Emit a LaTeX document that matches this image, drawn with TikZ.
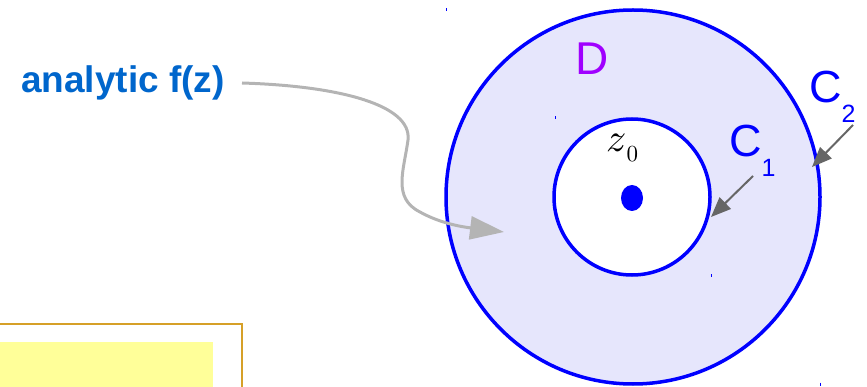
\documentclass[tikz,border=0pt]{standalone}
\usepackage{graphicx}
\usepackage{fontspec}
\setmainfont{Liberation Sans}
\usetikzlibrary{arrows.meta}
\definecolor{ringfill}{RGB}{230,230,252}
\definecolor{domainpurple}{RGB}{160,0,255}
\definecolor{fzblue}{RGB}{0,102,204}
\definecolor{pointgray}{RGB}{102,102,102}
\definecolor{curvegray}{RGB}{180,180,180}
\definecolor{noteyellow}{RGB}{255,255,153}
\definecolor{notegold}{RGB}{214,160,40}
\tikzset{
  contour/.style={draw=blue, line width=3.5pt},
  clabel/.style={text=blue, inner sep=0pt, anchor=base west, font=\fontsize{45}{48}\selectfont},
  pointer/.style={draw=pointgray, line width=2pt, -{Triangle[length=20pt,width=16pt]}},
  tick/.style={draw=blue, line width=1pt}
}
\newcommand{\sub}[1]{\raisebox{-20pt}{\fontsize{25}{25}\selectfont #1}}
\begin{document}
\begin{tikzpicture}[x=1pt,y=-1pt]
    \useasboundingbox (0,0) rectangle (867,387);
    \clip (0,0) rectangle (867,387);
    % note box, bottom left
    \fill[noteyellow] (0,342) rectangle (213,395);
    \draw[notegold, line width=1.2pt] (-5,324) -- (242,324) -- (242,395);
    % region D and the two contours
    \filldraw[contour, fill=ringfill] (633,197) circle (187);
    \filldraw[contour, fill=white] (632,197) circle (78);
    \fill[blue] (632,198) ellipse (11 and 13);
    \draw[tick] (446,8.5) -- (446,11.5);
    \draw[tick] (555,116.5) -- (555,119.5);
    \draw[tick] (711,274.5) -- (711,277.5);
    \draw[tick] (820,382.5) -- (820,385.5);
    % labels
    \node[inner sep=0pt, anchor=base west, text=domainpurple, font=\fontsize{46}{48}\selectfont] (D) at (575,75) {D};
    \node[inner sep=0pt, anchor=base west] (z0) at (606,152) {\scalebox{4}{$z$}\raisebox{-10pt}{\scalebox{2.3}{$0$}}};
    \node[clabel] (C1) at (729,157) {C\sub{1}};
    \node[clabel] (C2) at (809,103) {C\sub{2}};
    \node[inner sep=0pt, anchor=base west, text=fzblue, font=\fontsize{37}{40}\selectfont\bfseries] (fz) at (21,93) {analytic f(z)};
    % pointers
    \coordinate (c1tail) at (753,176);
    \coordinate (c1tip) at (711,217);
    \coordinate (c2tail) at (853,125);
    \coordinate (c2tip) at (812,167);
    \draw[pointer] (c1tail) -- (c1tip);
    \draw[pointer] (c2tail) -- (c2tip);
    \coordinate (fzout) at (242,83);
    \coordinate (inD) at (504,232);
    \draw[curvegray, line width=3pt, -{Triangle[length=34pt,width=23pt]}] (fzout) .. controls (340,86) and (412,105) .. (408,140) .. controls (404,170) and (392,198) .. (420,212) .. controls (436,221) and (455,226) .. (inD);
\end{tikzpicture}
\end{document}
